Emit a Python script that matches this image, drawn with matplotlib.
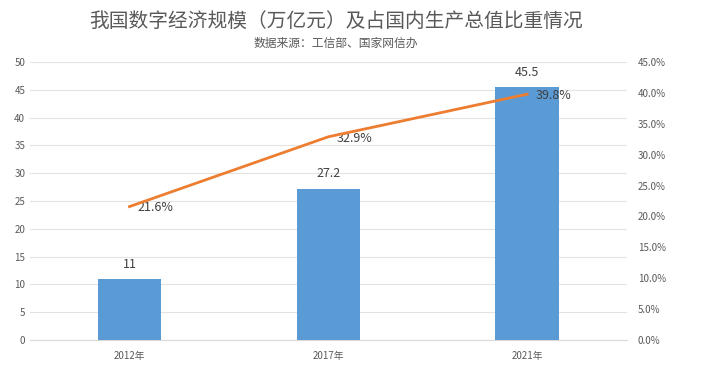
import numpy as np
import matplotlib.pyplot as plt
from matplotlib.ticker import PercentFormatter

plt.rcParams['font.family'] = ['Noto Sans CJK SC', 'DejaVu Sans']

# datos
years = ['2012年', '2017年', '2021年']
scale = [11, 27.2, 45.5]          # 万亿元
share = [0.216, 0.329, 0.398]     # 占GDP比重

gray = '#595959'
fig = plt.figure(figsize=(7.05, 3.91), dpi=100)
ax = fig.add_axes([0.0426, 0.1304, 0.8464, 0.711])
x = np.arange(len(years))

bars = ax.bar(x, scale, width=0.32, color='#5B9BD5', zorder=3)
ax.set_ylim(0, 50)
ax.set_yticks(np.arange(0, 51, 5))
ax.set_xlim(-0.5, 2.5)
ax.set_xticks(x)
ax.set_xticklabels(years)
ax.grid(axis='y', color='#E3E3E3', linewidth=0.8, zorder=0)
for s in ['top', 'right', 'left']:
    ax.spines[s].set_visible(False)
ax.spines['bottom'].set_color('#D9D9D9')
ax.tick_params(length=0, labelsize=7, colors=gray)
ax.tick_params(axis='x', pad=8)
for xi, v in zip(x, scale):
    ax.annotate(f'{v:g}', (xi, v), xytext=(0, 6), textcoords='offset points',
                ha='center', va='bottom', fontsize=9, color='#404040')

ax2 = ax.twinx()
ax2.plot(x, share, color='#ED7D31', linewidth=2, zorder=4)
ax2.set_ylim(0, 0.45)
ax2.set_yticks(np.arange(0, 0.451, 0.05))
ax2.yaxis.set_major_formatter(PercentFormatter(1.0, decimals=1))
for s in ax2.spines.values():
    s.set_visible(False)
ax2.tick_params(length=0, labelsize=7, colors=gray, pad=8)
for xi, v in zip(x, share):
    ax2.annotate(f'{v*100:.1f}%', (xi, v), xytext=(6, -1), textcoords='offset points',
                 ha='left', va='center', fontsize=9, color='#404040')

fig.text(0.476, 0.945, '我国数字经济规模（万亿元）及占国内生产总值比重情况',
         ha='center', va='center', fontsize=14.2, color=gray)
fig.text(0.476, 0.890, '数据来源：工信部、国家网信办',
         ha='center', va='center', fontsize=8.5, color=gray)

fig.savefig('out.png', dpi=100)
